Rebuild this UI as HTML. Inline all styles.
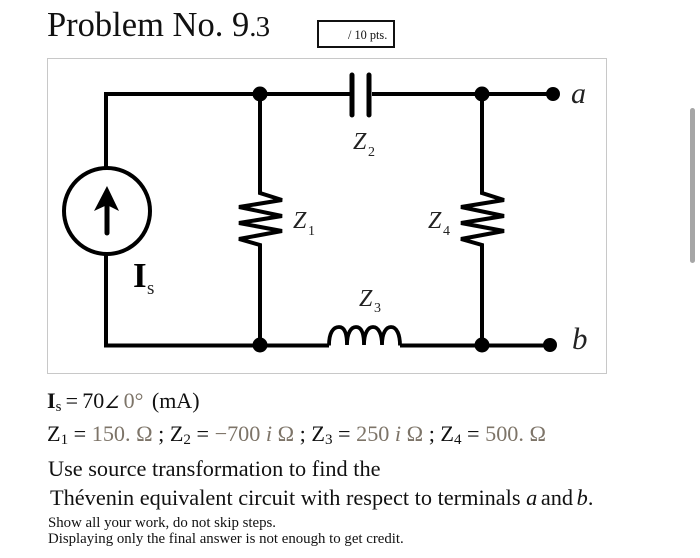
<!DOCTYPE html>
<html>
<head>
<meta charset="utf-8">
<style>
html,body{margin:0;padding:0;background:#fff;}
body{width:700px;height:558px;overflow:hidden;position:relative;font-family:"Liberation Serif",serif;color:#111;}
.t{position:absolute;white-space:nowrap;line-height:1;}
sub{font-size:.68em;vertical-align:baseline;position:relative;top:.22em;line-height:0;}
.g{color:#7d7468;}
i{font-style:italic;}
svg{position:absolute;left:0;top:0;}
svg text{font-family:"Liberation Serif",serif;fill:#222;}
</style>
</head>
<body>
<div class="t" style="left:47px;top:8px;font-size:34.500px;color:#111;">Problem No. 9<span style="font-size:29px;letter-spacing:-.8px;">.3</span></div>
<div style="position:absolute;left:317px;top:20px;width:74px;height:24px;border:2px solid #111;"></div>
<div class="t" style="left:348px;top:29px;font-size:12.300px;">/ 10 pts.</div>

<svg width="700" height="558" viewBox="0 0 700 558" fill="none">
<rect x="47.5" y="58.5" width="559" height="315" stroke="#c8c8c8" stroke-width="1" fill="#fff"/>
<g stroke="#000" stroke-width="4">
<path d="M106 168V94H350M372 94H553"/>
<path d="M106 255V345.500H329M400 345.500H550"/>
<path d="M260 94V193L282 200L239 207L282 216L239 223L282 231L239 239L260 245V345" stroke-linejoin="miter"/>
<path d="M482 94V193L504 200L461 207L504 216L461 223L504 231L461 239L482 245V345"/>
<path d="M329 345.500C329 333 333 327 339 327C345 327 347 335 347 345C347 333 351 327 356 327C362 327 364 335 364 345C364 333 368 327 373 327C379 327 382 335 382 345C382 333 386 327 391 327C397 327 400 335 400 345.500" stroke-width="3.800"/>
<circle cx="107" cy="211" r="43" fill="#fff"/>
<path d="M107 205V233" stroke-width="5" stroke-linecap="round"/>
<path d="M352 75V115M369 75V115" stroke-width="5" stroke-linecap="round"/>
</g>
<path d="M107 186L119 211L107 205L94 211Z" fill="#000"/>
<g fill="#000">
<circle cx="260" cy="94" r="7.500"/>
<circle cx="482" cy="94" r="7.500"/>
<circle cx="553" cy="94" r="7"/>
<circle cx="260" cy="345" r="7.500"/>
<circle cx="482" cy="345" r="7.500"/>
<circle cx="550" cy="345" r="7"/>
</g>
<text x="133" y="287" font-size="35" font-weight="bold" style="fill:#000">I</text>
<text x="147" y="294" font-size="19">s</text>
<text x="293" y="228" font-size="24" font-style="italic">Z</text><text x="308" y="235" font-size="14">1</text>
<text x="428" y="228" font-size="24" font-style="italic">Z</text><text x="443" y="235" font-size="14">4</text>
<text x="353" y="149" font-size="24" font-style="italic">Z</text><text x="368" y="156" font-size="14">2</text>
<text x="359" y="306" font-size="24" font-style="italic">Z</text><text x="374" y="312" font-size="14">3</text>
<text x="571" y="103" font-size="30" font-style="italic">a</text>
<text x="572" y="349" font-size="31" font-style="italic">b</text>
</svg>

<div class="t" style="left:47px;top:390px;font-size:22px;word-spacing:-1.300px;"><b>I</b><sub>s</sub> = 70<i style="font-size:17px;">∠</i> <span class="g">0°</span>&nbsp; (mA)</div>
<div class="t" style="left:47px;top:423px;font-size:22.200px;">Z<sub>1</sub> = <span class="g">150. Ω</span> ; Z<sub>2</sub> = <span class="g">−700 <i>i</i> Ω</span> ; Z<sub>3</sub> = <span class="g">250 <i>i</i> Ω</span> ; Z<sub>4</sub> = <span class="g">500. Ω</span></div>
<div class="t" style="left:48px;top:458px;font-size:22.300px;">Use source transformation to find the</div>
<div class="t" style="left:50px;top:487px;font-size:22.300px;">Thévenin equivalent circuit with respect to terminals <i>a</i><span style="margin-left:-2px;"> and</span><span style="margin-left:-2px;"> </span><i>b</i>.</div>
<div class="t" style="left:48px;top:516px;font-size:14.850px;">Show all your work, do not skip steps.</div>
<div class="t" style="left:48px;top:532px;font-size:14.850px;">Displaying only the final answer is not enough to get credit.</div>

<div style="position:absolute;left:690px;top:108px;width:5px;height:155px;background:#a6a6a6;border-radius:3px;"></div>
</body>
</html>
